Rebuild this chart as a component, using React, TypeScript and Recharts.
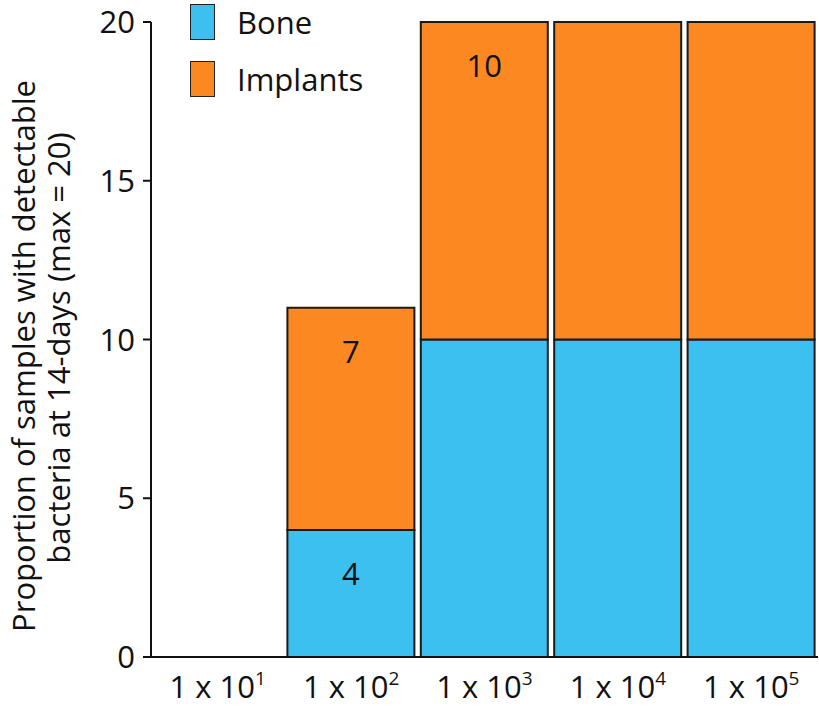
import React from 'react';
import { BarChart, Bar, XAxis, YAxis, LabelList } from 'recharts';

const exponents = ['1', '2', '3', '4', '5'];
const bone = [0, 4, 10, 10, 10];
const implants = [0, 7, 10, 10, 10];
const boneLabels = ['', '4', '', '', ''];
const implantLabels = ['', '7', '10', '', ''];
const yTicks = [0, 5, 10, 15, 20];
const yLabelLines = ['Proportion of samples with detectable', 'bacteria at 14-days (max = 20)'];
const legendItems = ['Bone', 'Implants'];

const BLUE = '#3CC0F0';
const ORANGE = '#FC8822';
const COLORS = [BLUE, ORANGE];
const FONT = '"Open Sans", sans-serif';

const data = exponents.map((e, i) => ({
  exp: e,
  bone: bone[i],
  implants: implants[i],
  boneLabel: boneLabels[i],
  implantLabel: implantLabels[i],
}));

const XTick = (props: any) => {
  const { x, y, payload } = props;
  return (
    <text x={x} y={y + 33} textAnchor="middle" fontSize={31} fontFamily={FONT} fill="#111">
      <tspan>1 x 10</tspan>
      <tspan dy={-13} fontSize={19}>{payload.value}</tspan>
    </text>
  );
};

const YTick = (props: any) => {
  const { x, y, payload } = props;
  return (
    <text x={x - 6} y={y + 11} textAnchor="end" fontSize={31} fontFamily={FONT} fill="#111">
      {payload.value}
    </text>
  );
};

const YLabel = () => (
  <g>
    {yLabelLines.map((t, i) => (
      <text
        key={i}
        x={0}
        y={0}
        transform={`translate(${35 + i * 35}, ${356 - i * 8}) rotate(-90)`}
        textAnchor="middle"
        fontSize={31}
        fontFamily={FONT}
        fill="#111"
      >
        {t}
      </text>
    ))}
  </g>
);

export default function App() {
  return (
    <div style={{ position: 'absolute', left: 0, top: 0, width: 819, height: 706, background: '#fff' }}>
      <BarChart
        width={819}
        height={706}
        data={data}
        margin={{ top: 22, right: 1, bottom: 0, left: 91 }}
        barCategoryGap={3}
      >
        <XAxis dataKey="exp" tick={<XTick />} tickLine={false} axisLine={{ stroke: '#111', strokeWidth: 2 }} height={49} />
        <YAxis
          domain={[0, 20]}
          ticks={yTicks}
          tick={<YTick />}
          tickSize={8}
          tickLine={{ stroke: '#111', strokeWidth: 2 }}
          axisLine={{ stroke: '#111', strokeWidth: 2 }}
          width={60}
          label={<YLabel />}
        />
        <Bar dataKey="bone" stackId="a" fill={BLUE} stroke="#1a1a1a" strokeWidth={2} isAnimationActive={false}>
          <LabelList dataKey="boneLabel" position="insideTop" offset={33} fontSize={31} fontFamily={FONT} fill="#111" />
        </Bar>
        <Bar dataKey="implants" stackId="a" fill={ORANGE} stroke="#1a1a1a" strokeWidth={2} isAnimationActive={false}>
          <LabelList dataKey="implantLabel" position="insideTop" offset={33} fontSize={31} fontFamily={FONT} fill="#111" />
        </Bar>
      </BarChart>
      <div style={{ position: 'absolute', left: 190, top: 2, fontFamily: FONT, fontSize: 31, color: '#111' }}>
        {legendItems.map((t, i) => (
          <div key={i} style={{ display: 'flex', alignItems: 'center', height: 57, marginTop: i === 0 ? -9 : 0 }}>
            <div style={{ width: 25, height: 36, background: COLORS[i], border: '1.5px solid #222', marginRight: 22, boxSizing: 'border-box' }} />
            <span>{t}</span>
          </div>
        ))}
      </div>
    </div>
  );
}
